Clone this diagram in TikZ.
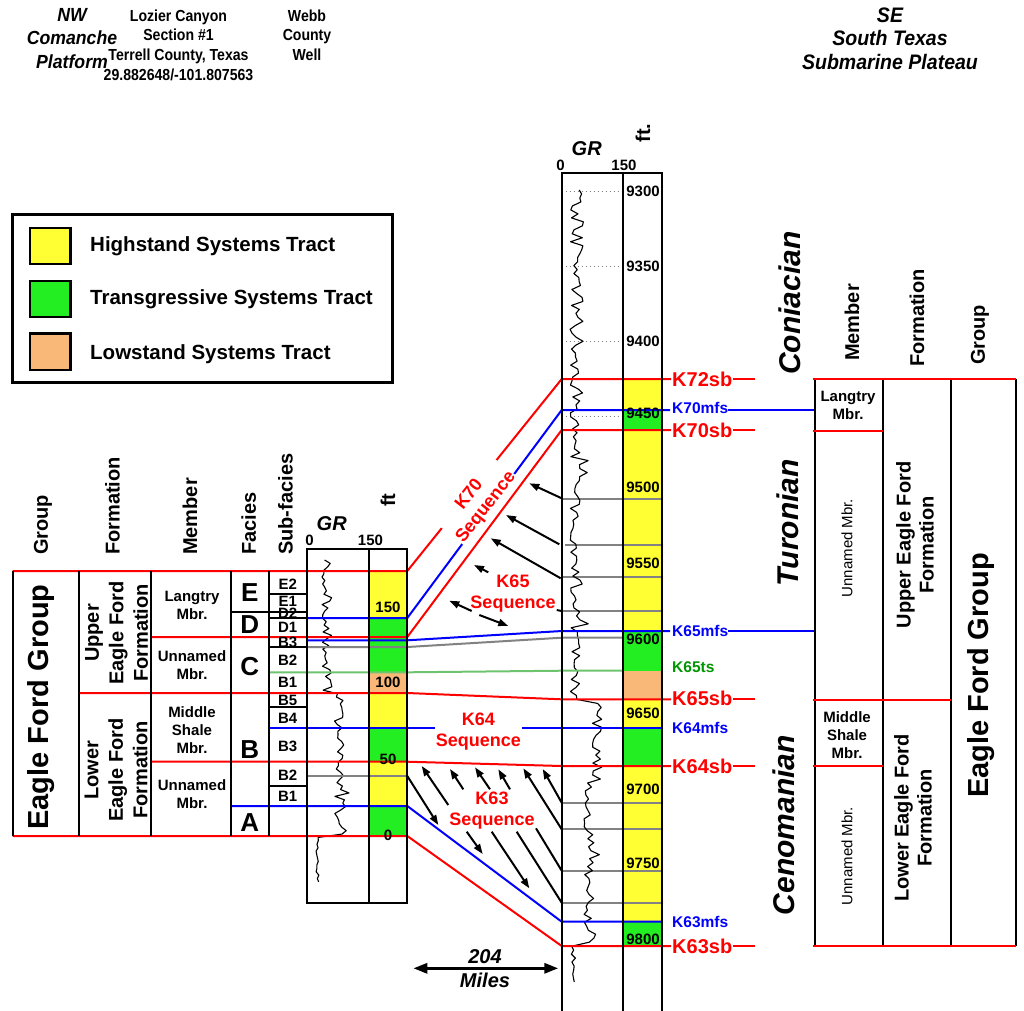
\documentclass[tikz,border=0pt]{standalone}
\usepackage{fontspec}
\setmainfont{Liberation Sans}
\newfontfamily\narrowf{Liberation Sans}[FakeStretch=0.93]
\newfontfamily\narrowg{Liberation Sans}[FakeStretch=0.88]
\usetikzlibrary{arrows.meta}
\definecolor{hst}{RGB}{255,255,51}
\definecolor{tst}{RGB}{34,238,34}
\definecolor{lst}{RGB}{250,184,120}
\definecolor{sbred}{RGB}{255,0,0}
\definecolor{mfsblue}{RGB}{0,0,255}
\definecolor{tsgreen}{RGB}{110,195,110}
\definecolor{tslabel}{RGB}{0,150,0}
\definecolor{grayln}{RGB}{130,130,130}
\begin{document}
\begin{tikzpicture}[x=1pt,y=-1pt,
  declare function={wb(\t)=575+2*(\t<345)+22*(\t>700)*(\t<780)+14*(\t>=780)*(\t<945)-2*(\t>=945);
                    wa(\t)=5+2*(\t<345)-2.5*(\t>=945);
                    lg(\t)=327+12*(\t>693)*(\t<836)-10*(\t>=836);
                    la(\t)=5.5-3.5*(\t>=836);},
  frame/.style={line width=2pt, black},
  divline/.style={line width=1.8pt, black},
  sbline/.style={line width=2pt, sbred},
  mfsline/.style={line width=2pt, mfsblue},
  tsline/.style={line width=2pt, tsgreen},
  gline/.style={line width=2pt, grayln},
  dotln/.style={line width=1.2pt, grayln, dash pattern=on 1.5pt off 2.5pt},
  grcurve/.style={line width=1.1pt, black, line join=round},
  arr/.style={line width=2pt, -{Triangle[length=10pt,width=7pt]}},
  plainln/.style={line width=2pt},
  swatch/.style={line width=2.5pt, black},
  hdrit/.style={font=\narrowf\bfseries\itshape\fontsize{21}{23.5}\selectfont, align=center, inner sep=0pt},
  hdrn/.style={font=\narrowg\bfseries\fontsize{16}{19.8}\selectfont, align=center, inner sep=0pt},
  legtext/.style={font=\bfseries\fontsize{20.5}{24}\selectfont, anchor=west, inner sep=0pt},
  colhdr/.style={font=\bfseries\fontsize{20}{24}\selectfont, rotate=90, anchor=west, inner sep=0pt},
  bigrot/.style={font=\bfseries\fontsize{29}{34}\selectfont, rotate=90, inner sep=0pt},
  formrot/.style={font=\bfseries\fontsize{20}{24.5}\selectfont, rotate=90, align=center, inner sep=0pt},
  mbr/.style={font=\bfseries\fontsize{15}{18}\selectfont, align=center, inner sep=0pt},
  mbrrot/.style={font=\fontsize{15}{18}\selectfont, rotate=90, inner sep=0pt},
  facies/.style={font=\bfseries\fontsize{26}{30}\selectfont, inner sep=0pt},
  subf/.style={font=\bfseries\fontsize{15}{18}\selectfont, inner sep=0pt},
  num/.style={font=\bfseries\fontsize{15}{18}\selectfont, inner sep=0pt},
  grlab/.style={font=\bfseries\itshape\fontsize{20}{24}\selectfont, inner sep=0pt},
  age/.style={font=\bfseries\itshape\fontsize{30}{36}\selectfont, rotate=90, inner sep=0pt},
  seqlab/.style={font=\bfseries\fontsize{18}{21}\selectfont, text=sbred, align=center, inner sep=1pt},
  sblab/.style={font=\bfseries\fontsize{20}{24}\selectfont, text=sbred, anchor=west, inner sep=0pt},
  mfslab/.style={font=\bfseries\fontsize{15.5}{18}\selectfont, text=mfsblue, anchor=west, inner sep=0pt},
]
\useasboundingbox (0,0) rectangle (1024,1010);

% ---------------- headers
\node[hdrit, font=\narrowf\bfseries\itshape\fontsize{19}{23.5}\selectfont, anchor=north] (nw) at (72,8) {NW\\Comanche\\Platform};
\node[hdrn, anchor=north] (loz) at (178.5,9.3) {Lozier Canyon\\Section \#1\\Terrell County, Texas\\29.882648/-101.807563};
\node[hdrn, anchor=north] (webb) at (307,9.3) {Webb\\County\\Well};
\node[hdrit, anchor=north] (se) at (890,7.5) {SE\\South Texas\\Submarine Plateau};

% ---------------- legend
\draw[line width=3pt] (12,214) rectangle (392,382.7);
\draw[swatch, fill=hst] (30,228) rectangle (70.7,264);
\draw[swatch, fill=tst] (30,281) rectangle (70.7,317);
\draw[swatch, fill=lst] (30,333.3) rectangle (70.7,370);
\node[legtext] (lh) at (90,246.7) {Highstand Systems Tract};
\node[legtext] (lt) at (90,299) {Transgressive Systems Tract};
\node[legtext] (ll) at (90,354.3) {Lowstand Systems Tract};

% ---------------- fills: left ft column
\fill[hst] (369.3,571) rectangle (407.3,618);
\fill[tst] (369.3,618) rectangle (407.3,672.3);
\fill[lst] (369.3,672.3) rectangle (407.3,693);
\fill[hst] (369.3,693) rectangle (407.3,728.3);
\fill[tst] (369.3,728.3) rectangle (407.3,761.7);
\fill[hst] (369.3,761.7) rectangle (407.3,806);
\fill[tst] (369.3,806) rectangle (407.3,836);
% ---------------- fills: Webb ft column
\fill[hst] (623.3,379) rectangle (661.7,410);
\fill[tst] (623.3,410) rectangle (661.7,430);
\fill[hst] (623.3,430) rectangle (661.7,631);
\fill[tst] (623.3,631) rectangle (661.7,670.7);
\fill[lst] (623.3,670.7) rectangle (661.7,699.3);
\fill[hst] (623.3,699.3) rectangle (661.7,728.3);
\fill[tst] (623.3,728.3) rectangle (661.7,766);
\fill[hst] (623.3,766) rectangle (661.7,921.7);
\fill[tst] (623.3,921.7) rectangle (661.7,946);

% ---------------- dotted depth lines
\foreach \yy in {191.7,266.7,341.7,416.7} \draw[dotln] (561.7,\yy) -- (623.3,\yy);
% gray lines in Webb well
\foreach \yy in {499,577.3,611,802.7,829.3,870.7,902.7} \draw[gline] (561.7,\yy) -- (661.7,\yy);
\draw[gline] (565,545) -- (663,545);

% ---------------- GR curves
\pgfmathsetseed{4242}
\draw[grcurve] plot[domain=190:982, samples=200, variable=\t] ({wb(\t)+wa(\t)*rand+70*max(0,rand-0.86)}, \t);
\draw[grcurve] plot[domain=560:882, samples=95, variable=\t] ({lg(\t)+la(\t)*rand+80*max(0,rand-0.85)*(\t<836)}, \t);

% ---------------- key points
\coordinate (L72) at (407.3,571);   \coordinate (W72) at (561.7,379);
\coordinate (L70m) at (407.3,618);  \coordinate (W70m) at (561.7,410);
\coordinate (L70) at (407.3,637);   \coordinate (W70) at (561.7,430);
\coordinate (L65m) at (407.3,640.3);\coordinate (W65m) at (561.7,631);
\coordinate (Lg) at (407.3,647);    \coordinate (Wg) at (561.7,637.7);
\coordinate (L65t) at (407.3,672.3);\coordinate (W65t) at (561.7,670.7);
\coordinate (L65) at (407.3,693);   \coordinate (W65) at (561.7,699.3);
\coordinate (L64) at (407.3,761.7); \coordinate (W64) at (561.7,766);
\coordinate (L63m) at (407.3,806);  \coordinate (W63m) at (561.7,921.7);
\coordinate (L63) at (407.3,836);   \coordinate (W63) at (561.7,946);

% ---------------- subfacies / facies divisions
\draw[divline] (268.7,594) -- (306.7,594);
\draw[divline] (230.7,612) -- (306.7,612);
\draw[divline] (268.7,618) -- (306.7,618);
\draw[divline] (268.7,647) -- (306.7,647);
\draw[divline] (268.7,707.3) -- (306.7,707.3);
\draw[divline] (268.7,785.7) -- (306.7,785.7);

% ---------------- correlation lines
\draw[gline] (306.7,647) -- (Lg) -- (Wg) -- (623.3,637.7);
\draw[gline] (306.7,776) -- (407.3,776);
\draw[tsline] (268.7,672.3) -- (L65t) -- (W65t) -- (623.3,670.7);
\draw[sbline] (12.7,571) -- (L72) -- (W72) -- (671,379);
\draw[mfsline] (306.7,618) -- (L70m) -- (W70m) -- (670,410);
\draw[sbline] (151,637) -- (L70) -- (W70) -- (671,430);
\draw[mfsline] (306.7,640.3) -- (L65m) -- (W65m) -- (670,631);
\draw[sbline] (78.7,693) -- (L65) -- (W65) -- (671,699.3);
\draw[mfsline] (268.7,728.3) -- (661.7,728.3);
\draw[sbline] (151,761.7) -- (L64) -- (W64) -- (671,766);
\draw[mfsline] (230.7,806) -- (L63m) -- (W63m) -- (661.7,921.7);
\draw[sbline] (12.7,836) -- (L63) -- (W63) -- (671,946);
% trailing segments after labels
\draw[sbline] (733,379) -- (755,379);
\draw[mfsline] (728,410) -- (815,410);
\draw[sbline] (733,430) -- (755,430);
\draw[mfsline] (728,631) -- (815,631);
\draw[sbline] (733,699.3) -- (755,699.3);
\draw[sbline] (733,766) -- (755,766);
\draw[sbline] (733,946) -- (755,946);

% ---------------- arrows (K70/K65)
\draw[arr] (561.7,498.3) -- (529.3,483.3);
\draw[arr] (559.3,544.3) -- (506,515);
\draw[arr] (560.7,578.3) -- (490.7,538.3);
\draw[arr] (488.3,572.3) -- (474,565);
\draw[arr] (471.7,611) -- (449.3,600.7);
\draw[arr] (479.3,615) -- (508.3,626);
\draw[plainln] (556.7,610) -- (561.7,611);
% ---------------- arrows (K63)
\draw[arr] (448.3,805) -- (421.7,766);
\draw[arr] (463.3,789.3) -- (450,769);
\draw[arr] (490,789.3) -- (475,767.3);
\draw[arr] (510,789.3) -- (498.3,769.3);
\draw[arr] (561.7,829.3) -- (523.3,768.3);
\draw[arr] (561.7,802.7) -- (542.7,769);
\draw[arr] (407.3,776) -- (438.3,825);
\draw[arr] (466.7,831.7) -- (482.7,854);
\draw[arr] (491.7,831.7) -- (529.3,888.3);
\draw[plainln] (516.7,831.7) -- (561.7,902.7);
\draw[plainln] (536,828.3) -- (561.7,870.7);

% ---------------- left table frame
\foreach \xx in {12.7,78.7,151,230.7,268.7} \draw[frame] (\xx,571) -- (\xx,836);
\draw[frame] (306.7,548.7) rectangle (407.3,903);
\draw[frame] (369.3,548.7) -- (369.3,903);
% ---------------- Webb well frame
\draw[frame] (561.7,1012) -- (561.7,173) -- (661.7,173) -- (661.7,1012);
\draw[frame] (623.3,173) -- (623.3,1012);
% ---------------- right table
\foreach \xx in {815,882.7,951,1016} \draw[frame] (\xx,379) -- (\xx,946);
\draw[sbline] (812.7,379) -- (1016,379);
\draw[sbline] (812.7,431) -- (882.7,431);
\draw[sbline] (812.7,700) -- (951,700);
\draw[sbline] (812.7,766) -- (882.7,766);
\draw[sbline] (812.7,946) -- (1016,946);

% ---------------- left table text
\node[colhdr] (hg) at (43,555) {Group};
\node[colhdr] (hf) at (112.5,555) {Formation};
\node[colhdr] (hm) at (190,555) {Member};
\node[colhdr] (hfa) at (248.7,555) {Facies};
\node[colhdr] (hs) at (285.5,555) {Sub-facies};
\node[colhdr] (hft) at (388,507) {ft};
\node[grlab] (grl) at (331.7,524) {GR};
\node[num] (gl0) at (309.5,540.7) {0};
\node[num] (gl150) at (370.5,540.7) {150};
\node[bigrot] (efg) at (41,707) {Eagle Ford Group};
\node[formrot] (uef) at (116.5,633) {Upper\\Eagle Ford\\Formation};
\node[formrot] (lef) at (116,770) {Lower\\Eagle Ford\\Formation};
\node[mbr] (m1) at (192,605) {Langtry\\Mbr.};
\node[mbr] (m2) at (192,665) {Unnamed\\Mbr.};
\node[mbr] (m3) at (192,729.7) {Middle\\Shale\\Mbr.};
\node[mbr] (m4) at (192,794) {Unnamed\\Mbr.};
\node[facies] (fE) at (249.7,593) {E};
\node[facies] (fD) at (249.7,624.5) {D};
\node[facies] (fC) at (249.7,666.5) {C};
\node[facies] (fB) at (249.7,750) {B};
\node[facies] (fA) at (249.7,823) {A};
\node[subf] (sE2) at (287.7,584) {E2};
\node[subf] (sE1) at (287.7,601.5) {E1};
\node[subf] (sD2) at (287.7,613.5) {D2};
\node[subf] (sD1) at (287.7,627.5) {D1};
\node[subf] (sB3a) at (287.7,642) {B3};
\node[subf] (sB2a) at (287.7,660) {B2};
\node[subf] (sB1a) at (287.7,682.5) {B1};
\node[subf] (sB5) at (287.7,700) {B5};
\node[subf] (sB4) at (287.7,718) {B4};
\node[subf] (sB3) at (287.7,746) {B3};
\node[subf] (sB2) at (287.7,775) {B2};
\node[subf] (sB1) at (287.7,796) {B1};
\node[num] (f150) at (388,607.7) {150};
\node[num] (f100) at (388,682.3) {100};
\node[num] (f50) at (388,759) {50};
\node[num] (f0) at (388,835.5) {0};

% ---------------- Webb text
\node[grlab] (grw) at (586.7,149) {GR};
\node[num] (gw0) at (560.5,165) {0};
\node[num] (gw150) at (624,165) {150};
\node[colhdr, anchor=center] (wft) at (643,133) {ft.};
\foreach \d/\yy in {9300/191,9350/266,9400/341,9450/413,9500/487.5,9550/563,9600/639,9650/713,9700/789,9750/863,9800/939}
  \node[num] (d\d) at (643,\yy) {\d};

% ---------------- surface labels
\node[sblab] (k72) at (672,379) {K72sb};
\node[mfslab] (k70m) at (672,408) {K70mfs};
\node[sblab] (k70) at (672,430) {K70sb};
\node[mfslab] (k65m) at (672,631) {K65mfs};
\node[mfslab, text=tslabel] (k65t) at (672,667) {K65ts};
\node[sblab] (k65) at (672,698) {K65sb};
\node[mfslab] (k64m) at (672,728.3) {K64mfs};
\node[sblab] (k64) at (672,766) {K64sb};
\node[mfslab] (k63m) at (672,921.7) {K63mfs};
\node[sblab] (k63) at (672,946) {K63sb};

% ---------------- sequence labels
\node[seqlab, fill=white, rotate=52] (s70) at (478,501) {K70\\Sequence};
\node[seqlab] (s65) at (513,594) {K65\\Sequence};
\node[seqlab, fill=white] (s64) at (478.3,732) {K64\\Sequence};
\node[seqlab] (s63) at (492,811) {K63\\Sequence};

% ---------------- scale bar
\draw[line width=3pt, {Triangle[length=14pt,width=10pt]}-{Triangle[length=14pt,width=10pt]}] (413.3,968.3) -- (558.3,968.3);
\node[grlab] (sc204) at (485,956.7) {204};
\node[grlab] (scmi) at (485,980) {Miles};

% ---------------- right table text
\node[age] (aC) at (790,303) {Coniacian};
\node[age] (aT) at (787.5,523) {Turonian};
\node[age] (aCe) at (784,825) {Cenomanian};
\node[colhdr] (rhm) at (852,361) {Member};
\node[colhdr] (rhf) at (917,367) {Formation};
\node[colhdr] (rhg) at (980,365) {Group};
\node[mbr] (rm1) at (848,405.8) {Langtry\\Mbr.};
\node[mbrrot] (rm2) at (847,548) {Unnamed Mbr.};
\node[mbr] (rm3) at (847,735) {Middle\\Shale\\Mbr.};
\node[mbrrot] (rm4) at (847,856) {Unnamed Mbr.};
\node[formrot, font=\bfseries\fontsize{20}{23}\selectfont] (ruef) at (915,545) {Upper Eagle Ford\\Formation};
\node[formrot, font=\bfseries\fontsize{20}{23}\selectfont] (rlef) at (913,818) {Lower Eagle Ford\\Formation};
\node[bigrot] (refg) at (981,675.5) {Eagle Ford Group};
\end{tikzpicture}
\end{document}
